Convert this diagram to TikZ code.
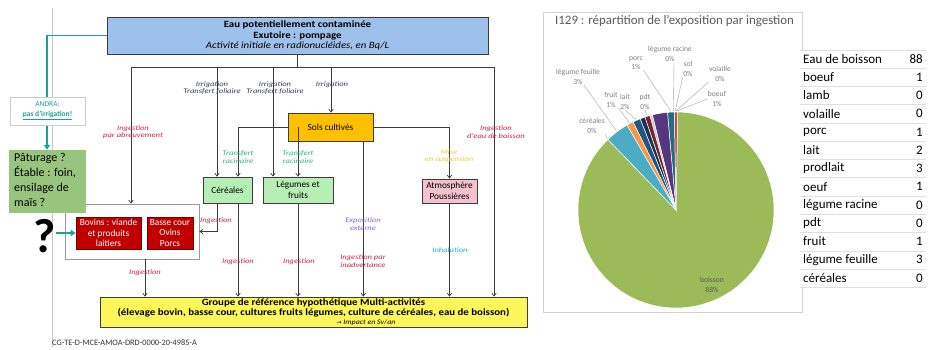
\documentclass[tikz,border=0pt]{standalone}
\usepackage{fontspec}
\setmainfont{Carlito}
\newfontfamily\djv{DejaVu Sans}
\newfontfamily\widefont[FakeStretch=1.13]{Carlito}
\newfontfamily\lblfont[FakeStretch=1.22]{Carlito}
\usetikzlibrary{arrows.meta,calc}
\definecolor{lncol}{RGB}{60,60,60}
\definecolor{bluefill}{RGB}{158,193,235}
\definecolor{solfill}{RGB}{255,192,0}
\definecolor{grnfill}{RGB}{182,238,182}
\definecolor{pinkfill}{RGB}{244,194,206}
\definecolor{redfill}{RGB}{192,0,0}
\definecolor{yelfill}{RGB}{252,246,90}
\definecolor{pastfill}{RGB}{152,197,125}
\definecolor{tealc}{RGB}{28,160,150}
\definecolor{lbldark}{RGB}{55,55,95}
\definecolor{lblred}{RGB}{205,35,70}
\definecolor{lblgrn}{RGB}{50,175,125}
\definecolor{lblyel}{RGB}{235,205,50}
\definecolor{lblpur}{RGB}{140,100,200}
\definecolor{lblcyan}{RGB}{40,175,205}
\definecolor{pgreen}{RGB}{155,187,89}
\definecolor{plblue}{RGB}{75,172,198}
\definecolor{porange}{RGB}{247,150,70}
\definecolor{pdblue}{RGB}{35,85,130}
\definecolor{pnavy}{RGB}{25,50,85}
\definecolor{pdred}{RGB}{120,35,40}
\definecolor{ppale}{RGB}{205,200,215}
\definecolor{ppurple}{RGB}{85,55,125}
\definecolor{pteal}{RGB}{35,110,130}
\definecolor{pred}{RGB}{200,75,70}
\definecolor{chartgrey}{RGB}{90,90,90}
\newcommand{\pieslice}[3]{\filldraw[fill=#1,draw=white,line width=0.5pt] (pc) -- ++(-#3:98) arc[start angle=-#3,end angle=-#2,radius=98] -- cycle;}
\begin{document}
\begin{tikzpicture}[x=1pt,y=-1pt,
 ln/.style={draw=lncol,line width=0.7pt},
 arr/.style={ln,-{Straight Barb[length=3pt,width=4.5pt]}},
 boxb/.style={draw=lncol,line width=0.7pt,inner sep=1pt,align=center,font=\fontsize{9.3}{10.5}\selectfont},
 lbl/.style={inner sep=0.5pt,align=center,font=\lblfont\fontsize{7}{7.5}\selectfont\itshape},
 tealarr/.style={draw=tealc,line width=1.8pt,-{Triangle[length=5pt,width=6pt]}},
 leader/.style={draw=gray!70,line width=0.4pt},
 plbl/.style={inner sep=0.5pt,align=center,text=gray,font=\fontsize{7.6}{9.5}\selectfont},
 tabtxt/.style={inner sep=0pt,font=\fontsize{13}{15}\selectfont},
]
\useasboundingbox[fill=white] (0,0) rectangle (930,350);
% page border line
\draw[gray!45,line width=0.5pt] (52,8) -- (52,347);

% ---------------- nodes of the diagram
\node[boxb,fill=bluefill,minimum width=381pt,minimum height=37pt,font=\widefont\fontsize{9.6}{10.5}\selectfont] (src) at (297.5,35.5)
 {\textbf{Eau potentiellement contaminée}\\\textbf{Exutoire : pompage}\\\textit{Activité initiale en radionucléides, en Bq/L}};
\node[boxb,fill=solfill,minimum width=85pt,minimum height=28pt] (sols) at (330.5,127) {Sols cultivés};
\node[boxb,fill=grnfill,minimum width=49pt,minimum height=26pt] (cer) at (227.5,190) {Céréales};
\node[boxb,fill=grnfill,minimum width=70pt,minimum height=26pt] (leg) at (298,190) {Légumes et\\fruits};
\node[boxb,fill=pinkfill,minimum width=55pt,minimum height=24pt] (atm) at (449.5,191) {Atmosphère\\Poussières};
\node[boxb,draw=gray!80,fill=white,minimum width=134pt,minimum height=55pt] (outer) at (132,231.5) {};
\node[boxb,draw=red!45!black,fill=redfill,text=white,minimum width=65pt,minimum height=32pt] (bov) at (108.5,233) {Bovins : viande\\et produits\\laitiers};
\node[boxb,draw=red!45!black,fill=redfill,text=white,minimum width=46pt,minimum height=32pt] (bas) at (170,233) {Basse cour\\Ovins\\Porcs};
\node[boxb,fill=yelfill,minimum width=427pt,minimum height=30pt,inner sep=0pt,font=\widefont\fontsize{9.6}{10.4}\selectfont] (grp) at (313.5,312)
 {\textbf{Groupe de référence hypothétique Multi-activités}\\\textbf{(élevage bovin, basse cour, cultures fruits légumes, culture de céréales, eau de boisson)}\\[-2pt]\hspace*{105pt}{\fontsize{7}{8}\selectfont\itshape{\djv\fontsize{6}{8}\selectfont →} Impact en Sv/an}};

% ---------------- bus and connectors
\coordinate (busL) at (131,67);
\coordinate (busR) at (494,67);
\coordinate (b1) at (217,67);
\coordinate (b2) at (273,67);
\coordinate (b3) at (331,67);
\coordinate (s1) at (238,127);
\coordinate (s2) at (298,127);
\coordinate (s3) at ($(sols.south east)+(-10,0)$);
\coordinate (c1) at ($(cer.south)+(-10.5,0)$);
\coordinate (c2) at ($(cer.south)+(10.5,0)$);
\coordinate (o1) at ($(outer.south)+(13,0)$);

\draw[ln] (src.south) -- (src.south |- busL);
\draw[ln] (busL) -- (busR);
\draw[arr] (busL) -- (busL |- outer.north);
\draw[arr] (b1) -- (b1 |- cer.north);
\draw[arr] (b2) -- (b2 |- leg.north);
\draw[arr] (b3) -- (b3 |- sols.north);
\draw[arr] (busR) -- (busR |- grp.north);
\draw[ln] (sols.west) -- (s1);
\draw[arr] (s1) -- (s1 |- cer.north);
\draw[arr] (s2) -- (s2 |- leg.north);
\draw[arr] (sols.east) -| (atm.north);
\draw[arr] (s3) -- (s3 |- grp.north);
\draw[arr] (c1) |- (outer.east);
\draw[arr] (c2) -- (c2 |- grp.north);
\draw[arr] (leg.south) -- (leg.south |- grp.north);
\draw[arr] (atm.south) -- (atm.south |- grp.north);
\draw[arr] (o1) -- (o1 |- grp.north);

% ---------------- labels on connectors
\node[lbl,text=lbldark] (l1) at (212,88) {Irrigation\\Transfert foliaire};
\node[lbl,text=lbldark] (l2) at (275,88) {Irrigation\\Transfert foliaire};
\node[lbl,text=lbldark] (l3) at (332,85) {Irrigation};
\node[lbl,text=lblred] (l4) at (133,132) {Ingestion\\par abreuvement};
\node[lbl,text=lblred] (l5) at (496,132) {Ingestion\\d'eau de boisson};
\node[lbl,text=lblgrn] (l6) at (238,157) {Transfert\\racinaire};
\node[lbl,text=lblgrn] (l7) at (298,157) {Transfert\\racinaire};
\node[lbl,text=lblyel] (l8) at (449,156) {Mise\\en suspension};
\node[lbl,text=lblred] (l9) at (216,221) {Ingestion};
\node[lbl,text=lblred] (l10) at (238,262) {Ingestion};
\node[lbl,text=lblred] (l11) at (299,262) {Ingestion};
\node[lbl,text=lblpur] (l12) at (363,224) {Exposition\\externe};
\node[lbl,text=lblred] (l13) at (363,261) {Ingestion par\\inadvertance};
\node[lbl,text=lblcyan] (l14) at (450,250) {Inhalation};
\node[lbl,text=lblred] (l15) at (145,273) {Ingestion};

\node[anchor=west,inner sep=0pt,text=black!80,font=\fontsize{8.3}{9}\selectfont] (foot) at (52,343) {CG-TE-D-MCE-AMOA-DRD-0000-20-4985-A};

% ---------------- left annotations
\node[fill=pastfill,minimum width=77pt,minimum height=63pt,inner sep=0pt] (past) at (47,181.5) {};
\node[anchor=north west,inner sep=0pt,align=left,font=\fontsize{12}{15}\selectfont] (pasttxt) at (14,153) {Pâturage ?\\Étable : foin,\\ensilage de\\maïs ?};
\draw[tealarr] (src.west) -| (past.north);
\node[draw=gray!40,fill=white,minimum width=75pt,minimum height=28pt,inner sep=0pt,align=center,text=tealc,font=\fontsize{7.5}{10}\selectfont] (andra) at (47.5,111) {ANDRA:\\\textbf{\underline{pas d'irrigation!}}};
\node[inner sep=0pt,font=\fontsize{48}{48}\selectfont\bfseries] (qm) at (45,236) {?};
\draw[tealarr] (qm.east |- bov.west) -- (bov.west);

% ---------------- chart
\draw[gray!35,line width=0.5pt] (543,12) rectangle (802,312);
\node[anchor=west,inner sep=0pt,text=chartgrey,font=\fontsize{12.9}{14}\selectfont] (ctitle) at (555,21) {I129 : répartition de l'exposition par ingestion};
\coordinate (pc) at (676,210);
\pieslice{pgreen}{134}{449}
\pieslice{pred}{89}{91}
\pieslice{pteal}{91}{95}
\pieslice{ppurple}{95}{104}
\pieslice{ppale}{104}{105.5}
\pieslice{pdred}{105.5}{108.5}
\pieslice{pnavy}{108.5}{111.5}
\pieslice{pdblue}{111.5}{116}
\pieslice{porange}{116}{120}
\pieslice{plblue}{120}{134}

\node[plbl] (lcer) at (592,126) {céréales\\0\%};
\node[plbl] (lfeu) at (578,77) {légume feuille\\3\%};
\node[plbl] (lfru) at (611,100) {fruit\\1\%};
\node[plbl] (llai) at (625,102) {lait\\2\%};
\node[plbl] (lpdt) at (645,102) {pdt\\0\%};
\node[plbl] (lporc) at (636,63) {porc\\1\%};
\node[plbl] (lrac) at (670,54) {légume racine\\0\%};
\node[plbl] (lsol) at (688,69) {sol\\0\%};
\node[plbl] (lvol) at (720,74) {volaille\\0\%};
\node[plbl] (lboe) at (717,99) {boeuf\\1\%};
\node[plbl,text=chartgrey] (lboi) at (712,285) {boisson\\88\%};

\draw[leader] (lcer.south east) -- ($(pc)+(-134:99)$);
\draw[leader] ($(lfeu.south)+(6,0)$) -- ($(pc)+(-127:99)$);
\draw[leader] (lfru.south east) -- ($(pc)+(-118:99)$);
\draw[leader] (llai.south) -- ($(pc)+(-113.8:99)$);
\draw[leader] (lpdt.south) -- ($(pc)+(-107:99)$);
\draw[leader] (lporc.south east) -- ($(pc)+(-93:99)$);
\draw[leader] ($(lrac.south)+(4,0)$) -- ($(pc)+(-91.5:99)$);
\draw[leader] (lsol.south west) -- ($(pc)+(-90.5:99)$);
\draw[leader] (lvol.south west) -- ($(pc)+(-90:99)$);
\draw[leader] (lboe.west) -- ($(pc)+(-89.5:99)$);

% ---------------- table
\fill[white] (800,50) rectangle (926,287);
\foreach \k in {0,...,13} \draw[gray!25,line width=0.5pt] (800,{50+18.25*\k}) -- (926,{50+18.25*\k});
\foreach \nm/\val [count=\i from 0] in {Eau de boisson/88,boeuf/1,lamb/0,volaille/0,porc/1,lait/2,prodlait/3,oeuf/1,légume racine/0,pdt/0,fruit/1,légume feuille/3,céréales/0}{
  \node[tabtxt,anchor=west] (tn\i) at (803,{59+18.25*\i}) {\nm};
  \node[tabtxt,anchor=east] (tv\i) at (923,{59+18.25*\i}) {\val};
}
\end{tikzpicture}
\end{document}
